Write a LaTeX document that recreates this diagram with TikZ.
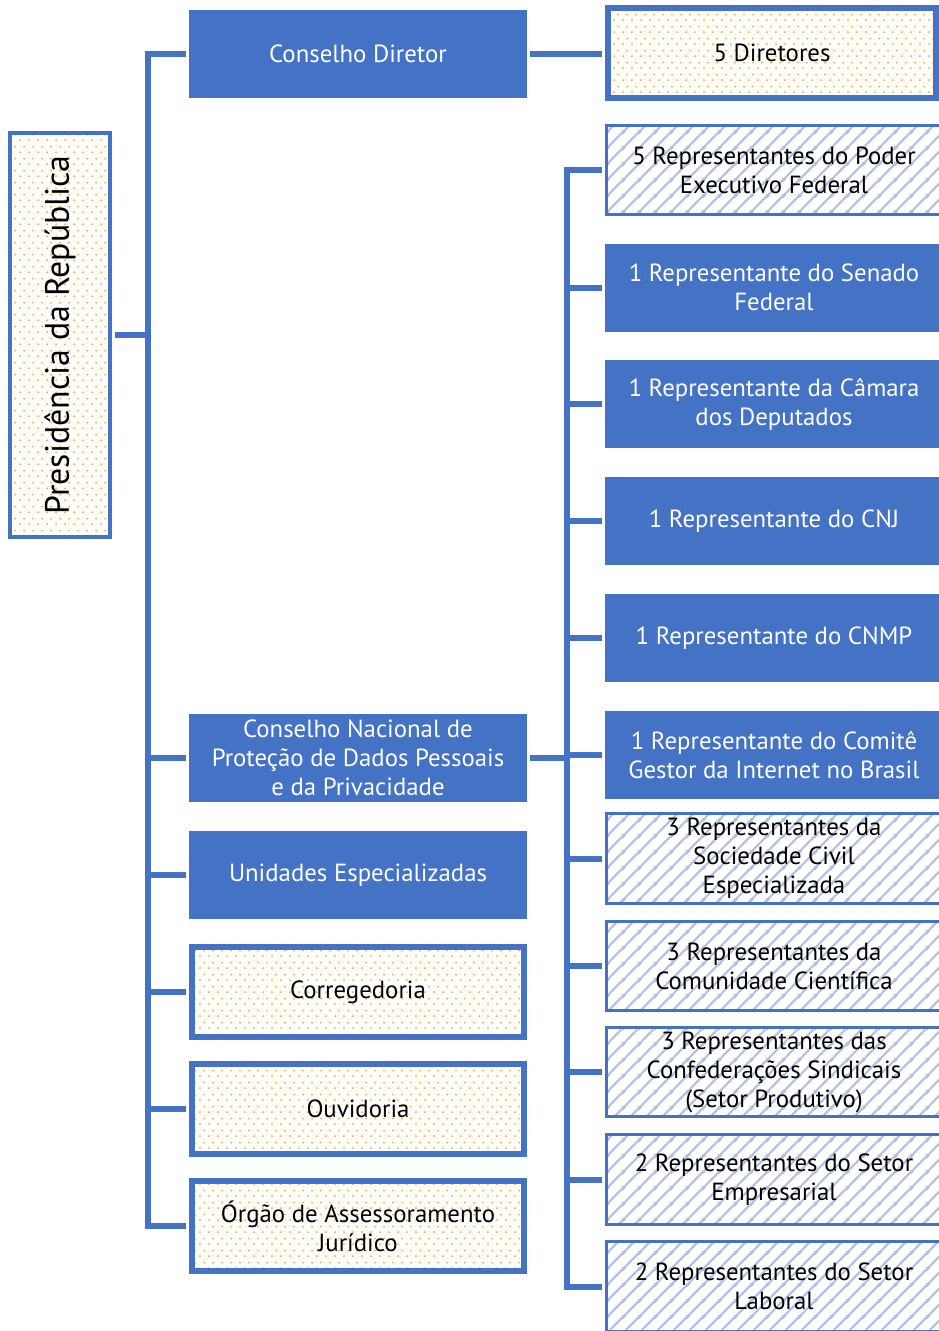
\documentclass[tikz,border=0pt]{standalone}
\usepackage{fontspec}
\setmainfont{PT Sans}
\usetikzlibrary{patterns.meta}
\definecolor{cblue}{HTML}{4472C4}
\definecolor{hatchc}{HTML}{ADC2E6}
\definecolor{dotc}{HTML}{F4AA28}
\newcommand{\bodyfont}{\fontsize{24.8}{29}\selectfont}
\newcommand{\presfont}{\fontsize{33.8}{38}\selectfont}
\tikzdeclarepattern{
  name=orangedots,
  type=colored,
  bounding box={(0pt,0pt) and (9pt,12pt)},
  tile size={(9pt,12pt)},
  code={
    \fill[dotc] (2.25pt,3pt) circle (1.1pt);
    \fill[dotc] (6.75pt,9pt) circle (1.1pt);
  }
}
\tikzdeclarepattern{
  name=bluehatch,
  type=colored,
  bounding box={(0pt,0pt) and (16pt,16pt)},
  tile size={(16pt,16pt)},
  code={
    \draw[hatchc, line width=2.2pt] (-2pt,-2pt) -- (18pt,18pt);
    \draw[hatchc, line width=2.2pt] (-2pt,14pt) -- (2pt,18pt);
    \draw[hatchc, line width=2.2pt] (14pt,-2pt) -- (18pt,2pt);
  }
}
\begin{document}
\begin{tikzpicture}[x=1pt,y=-1pt,
  base/.style={inner sep=0pt, align=center, font=\bodyfont},
  solidbox/.style={base, fill=cblue, text=white, minimum width=338pt, minimum height=88pt, outer sep=3pt},
  dotbox/.style={base, draw=cblue, line width=6pt, pattern=orangedots, text=black, minimum width=332pt, minimum height=90pt, outer sep=6pt},
  hatchbox/.style={base, draw=cblue, line width=3pt, pattern=bluehatch, text=black, minimum width=335pt, minimum height=89.5pt, outer sep=4.5pt},
  presbox/.style={base, draw=cblue, line width=4pt, pattern=orangedots, text=black, minimum width=100pt, minimum height=404pt, outer sep=5pt, font=\presfont},
  link/.style={draw=cblue, line width=6pt}
]
\useasboundingbox (0,0) rectangle (939,1331);
\fill[white] (0,0) rectangle (939,1331);
\begin{scope}
\clip (0,0) rectangle (939,1331);
% left column
\node[presbox] (pres) at (60,335) {\rotatebox{90}{Presidência da República}};
% middle column
\node[solidbox] (cd) at (358,53.5) {Conselho Diretor};
\node[solidbox] (cnpd) at (358,758) {Conselho Nacional de\\Proteção de Dados Pessoais\\e da Privacidade};
\node[solidbox] (ue) at (358,875) {Unidades Especializadas};
\node[dotbox] (corr) at (358,992) {Corregedoria};
\node[dotbox] (ouv) at (358,1109) {Ouvidoria};
\node[dotbox] (oaj) at (358,1226) {Órgão de Assessoramento\\Jurídico};
% right column
\node[dotbox, minimum width=328pt] (dir) at (772,53) {5 Diretores};
\node[hatchbox] (exe) at (774,170) {5 Representantes do Poder\\Executivo Federal};
\node[solidbox] (sen) at (774,287.5) {1 Representante do Senado\\Federal};
\node[solidbox] (cam) at (774,404) {1 Representante da Câmara\\dos Deputados};
\node[solidbox] (cnj) at (774,521) {1 Representante do CNJ};
\node[solidbox] (cnmp) at (774,638) {1 Representante do CNMP};
\node[solidbox] (cgi) at (774,755) {1 Representante do Comitê\\Gestor da Internet no Brasil};
\node[hatchbox] (soc) at (774,858.5) {3 Representantes da\\Sociedade Civil\\Especializada};
\node[hatchbox] (cie) at (774,966) {3 Representantes da\\Comunidade Científica};
\node[hatchbox] (sind) at (774,1072) {3 Representantes das\\Confederações Sindicais\\(Setor Produtivo)};
\node[hatchbox] (emp) at (774,1179.5) {2 Representantes do Setor\\Empresarial};
\node[hatchbox] (lab) at (774,1286.5) {2 Representantes do Setor\\Laboral};
% buses
\coordinate (lb) at (148,0);
\coordinate (rb) at (567,0);
% left connectors
\draw[link] (cd.west) -| (lb |- oaj.west) -- (oaj.west);
\draw[link] (pres.east) -- (lb |- pres.east);
\foreach \n in {cnpd,ue,corr,ouv}
  \draw[link] (lb |- \n.west) -- (\n.west);
% top connector
\draw[link] (cd.east) -- (cd.east -| dir.west);
% right connectors
\draw[link] (cnpd.east) -- (rb |- cnpd.east);
\draw[link] (exe.west) -| (rb |- lab.west) -- (lab.west);
\foreach \n in {sen,cam,cnj,cnmp,cgi,soc,cie,sind,emp}
  \draw[link] (rb |- \n.west) -- (\n.west);
\end{scope}
\end{tikzpicture}
\end{document}
